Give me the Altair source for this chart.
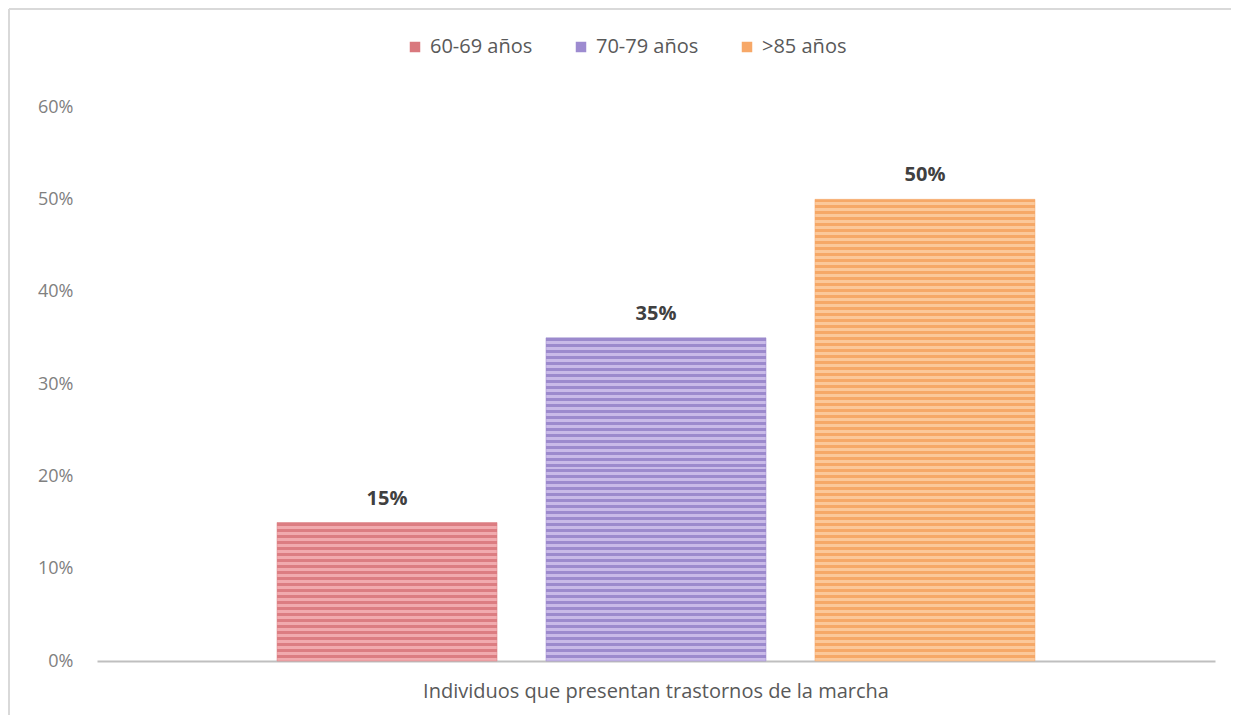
import altair as alt
import pandas as pd

categoria = "Individuos que presentan trastornos de la marcha"
grupos = ["60-69 años", "70-79 años", ">85 años"]
valores = [0.15, 0.35, 0.50]
colores_leyenda = ["#d9787d", "#9d8bd0", "#f7a868"]
colores_claros = ["#f1aaae", "#c9bae8", "#fbc89a"]
colores_oscuros = ["#dc7d82", "#9c8acd", "#f6a867"]

FONT = "Open Sans"
W, H = 1118, 554
YMAX = 0.6
PITCH = 6  # stripe pitch in px

df = pd.DataFrame({"categoria": [categoria] * 3, "grupo": grupos, "valor": valores})


def stripes(v, light, dark):
    n = max(1, round(v / YMAX * H / PITCH))
    stops = []
    for i in range(n):
        a = i / n
        m = (i + 0.5) / n
        b = (i + 1) / n
        stops += [
            {"offset": a, "color": dark},
            {"offset": m, "color": dark},
            {"offset": m, "color": light},
            {"offset": b, "color": light},
        ]
    return {"gradient": "linear", "x1": 0, "y1": 0, "x2": 0, "y2": 1, "stops": stops}


x_enc = alt.X(
    "categoria:N",
    scale=alt.Scale(paddingOuter=0.2375, paddingInner=0),
    axis=alt.Axis(
        title=None,
        labelAngle=0,
        ticks=False,
        domainColor="#bfbfbf",
        domainWidth=2,
        labelPadding=20,
        labelFontSize=20,
        labelLimit=0,
        labelColor="#595959",
        labelFont=FONT,
    ),
)
xo_enc = alt.XOffset(
    "grupo:N", sort=grupos, scale=alt.Scale(domain=grupos, paddingInner=0.182, paddingOuter=0)
)
y_enc = alt.Y(
    "valor:Q",
    scale=alt.Scale(domain=[0, YMAX], nice=False),
    axis=alt.Axis(
        title=None,
        format=".0%",
        values=[0, 0.1, 0.2, 0.3, 0.4, 0.5, 0.6],
        grid=False,
        domain=False,
        ticks=False,
        labelPadding=24,
        labelFontSize=18,
        labelColor="#808080",
        labelFont=FONT,
    ),
)

base = alt.Chart(df).encode(x=x_enc, xOffset=xo_enc, y=y_enc)

layers = []
for g, v, cl, co in zip(grupos, valores, colores_claros, colores_oscuros):
    layers.append(
        base.transform_filter(alt.datum.grupo == g).mark_bar(
            fill=stripes(v, cl, co), stroke=co, strokeWidth=1, strokeOpacity=0.5
        )
    )

legend_layer = base.mark_square(opacity=0, filled=True).encode(
    color=alt.Color(
        "grupo:N",
        sort=grupos,
        scale=alt.Scale(domain=grupos, range=colores_leyenda),
        legend=alt.Legend(
            title=None,
            orient="none",
            legendX=308,
            legendY=-70,
            direction="horizontal",
            columns=3,
            symbolType="square",
            symbolSize=110,
            symbolOpacity=1,
            symbolStrokeWidth=0,
            labelFontSize=20,
            labelColor="#595959",
            labelFont=FONT,
            columnPadding=38,
            labelOffset=5,
        ),
    )
)

text_layer = base.mark_text(
    baseline="bottom", dy=-14, fontWeight="bold", fontSize=20, color="#404040", font=FONT
).encode(text=alt.Text("valor:Q", format=".0%"))

frame_df = pd.DataFrame({"k": [0]})
left_border = alt.Chart(frame_df).mark_rule(color="#d9d9d9", strokeWidth=2).encode(
    x=alt.value(-88), y=alt.value(-98), y2=alt.value(608)
)
top_border = alt.Chart(frame_df).mark_rule(color="#d9d9d9", strokeWidth=2).encode(
    x=alt.value(-88), x2=alt.value(1134), y=alt.value(-98)
)

chart = (
    alt.layer(left_border, top_border, *layers, legend_layer, text_layer)
    .properties(
        width=W,
        height=H,
        autosize=alt.AutoSizeParams(type="none"),
        padding={"left": 89, "top": 99, "right": 16, "bottom": 54},
    )
    .configure_view(stroke=None)
)

chart.save("out.html", embed_options={"renderer": "svg", "actions": False})
